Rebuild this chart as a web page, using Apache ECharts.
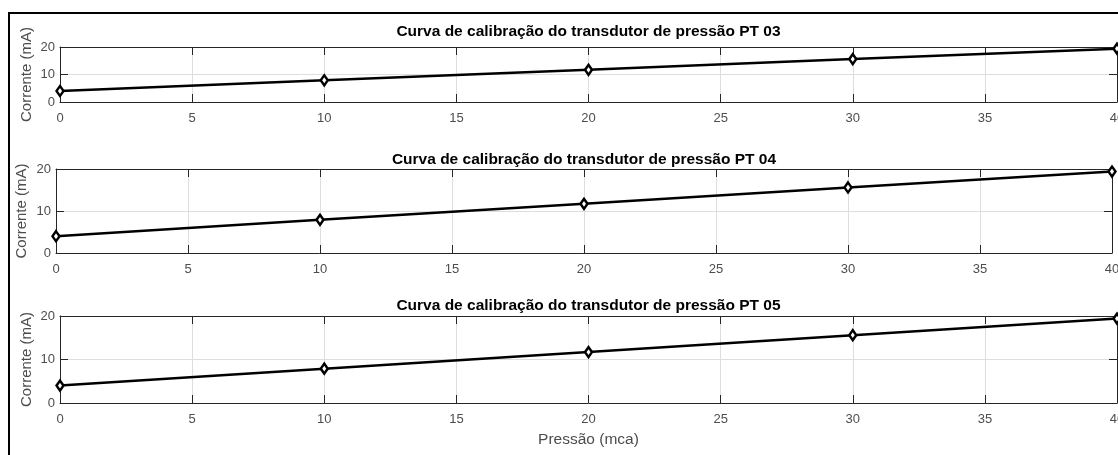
<!DOCTYPE html>
<html><head><meta charset="utf-8">
<script src="https://cdn.jsdelivr.net/npm/echarts@6/dist/echarts.min.js"></script>
<style>html,body{margin:0;padding:0;background:#fff}#c{width:1118px;height:455px}</style>
</head><body><div id="c"></div>
<script>
const pressao = [0, 10, 20, 30, 40];
const pt03 = [4, 7.9, 11.7, 15.6, 19.4];
const pt04 = [4, 7.9, 11.7, 15.6, 19.4];
const pt05 = [4, 7.9, 11.7, 15.6, 19.4];
const titles = ['Curva de calibração do transdutor de pressão PT 03',
                'Curva de calibração do transdutor de pressão PT 04',
                'Curva de calibração do transdutor de pressão PT 05'];
const yName = 'Corrente (mA)';
const xName = 'Pressão (mca)';

const FONT = '"Liberation Sans", Arial, sans-serif';
const AX = '#262626';
const LBL = '#4d4d4d';
const GRIDC = '#dedede';
const grids = [
  {left: 60, right: 1, top: 47, height: 55},
  {left: 56, right: 6, top: 169, height: 84},
  {left: 60, right: 1, top: 316, height: 87}
];
const titleTops = [24, 152, 298];
const nameGaps = [26, 27, 26];
const seriesData = [pt03, pt04, pt05];

const common = {
  axisLine: {show: true, onZero: false, lineStyle: {color: AX, width: 1}},
  axisTick: {show: true, inside: true, length: 8, lineStyle: {color: AX}}
};
const xAxis = [], yAxis = [], series = [], title = [];
grids.forEach((g, i) => {
  const cx = g.left + (1118 - g.left - g.right) / 2;
  title.push({text: titles[i], left: cx, top: titleTops[i], textAlign: 'center', padding: 0,
    textStyle: {fontFamily: FONT, fontSize: 15.5, fontWeight: 'bold', color: '#000'}});
  xAxis.push(Object.assign({gridIndex: i, type: 'value', min: 0, max: 40, interval: 5, position: 'bottom',
    name: i === 2 ? xName : '', nameLocation: 'middle', nameGap: 29, nameMoveOverlap: false,
    nameTextStyle: {fontFamily: FONT, fontSize: 15.5, color: LBL},
    axisLabel: {fontFamily: FONT, fontSize: 13, color: LBL, margin: 10, showMaxLabel: true},
    splitLine: {show: true, lineStyle: {color: GRIDC, width: 1}}}, common));
  xAxis.push(Object.assign({gridIndex: i, type: 'value', min: 0, max: 40, interval: 5, position: 'top',
    axisLabel: {show: false}, splitLine: {show: false}}, common));
  yAxis.push(Object.assign({gridIndex: i, type: 'value', min: 0, max: 20, interval: 10, position: 'left',
    name: yName, nameLocation: 'middle', nameRotate: 90, nameGap: nameGaps[i], nameMoveOverlap: false,
    nameTextStyle: {fontFamily: FONT, fontSize: 15, color: LBL},
    axisLabel: {fontFamily: FONT, fontSize: 13, color: LBL, margin: 5},
    splitLine: {show: true, lineStyle: {color: GRIDC, width: 1}}}, common));
  yAxis.push(Object.assign({gridIndex: i, type: 'value', min: 0, max: 20, interval: 10, position: 'right',
    axisLabel: {show: false}, splitLine: {show: false}}, common));
  series.push({type: 'line', xAxisIndex: 2 * i, yAxisIndex: 2 * i,
    data: pressao.map((x, k) => [x, seriesData[i][k]]),
    symbol: 'diamond', symbolSize: [7, 10],
    itemStyle: {color: '#fff', borderColor: '#000', borderWidth: 2.5},
    lineStyle: {color: '#000', width: 2.5}, clip: false, animation: false, z: 5});
});

const chart = echarts.init(document.getElementById('c'), null, {renderer: 'canvas'});
chart.setOption({
  animation: false,
  backgroundColor: '#fff',
  title: title,
  grid: grids.map(g => Object.assign({containLabel: false, outerBoundsMode: 'none'}, g)),
  xAxis: xAxis, yAxis: yAxis, series: series,
  graphic: [{type: 'rect', shape: {x: 9, y: 13, width: 1300, height: 600},
    style: {fill: 'none', stroke: '#000', lineWidth: 2}, silent: true, z: 100}]
});
</script></body></html>
